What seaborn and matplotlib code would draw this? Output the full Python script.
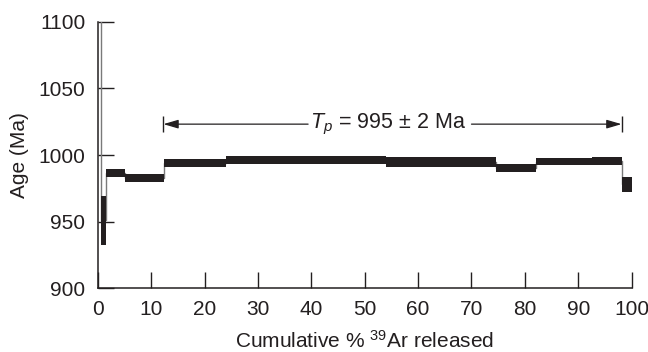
import numpy as np
import pandas as pd
import matplotlib
matplotlib.use("Agg")
import matplotlib.pyplot as plt
import seaborn as sns

# Step boundaries (cumulative % 39Ar released)
step_left = [0.0, 0.62, 1.5, 5.1, 12.5, 24.0, 54.0, 74.6, 82.0, 92.5, 98.1]
step_right = [0.62, 1.5, 5.1, 12.5, 24.0, 54.0, 74.6, 82.0, 92.5, 98.1, 100.0]
# Apparent ages (Ma) and 1-sigma errors
ages = [1300.0, 950.9, 986.6, 982.8, 994.1, 996.3, 994.7, 990.3, 995.0, 995.6, 978.1]
errs = [20.0, 18.3, 2.9, 2.9, 2.9, 3.1, 4.0, 2.9, 2.5, 3.1, 5.6]

plateau_start = 12.3
plateau_end = 98.1
plateau_label = "$T_p$ = 995 ± 2 Ma"
plateau_y = 1023.2

xticks = [0, 10, 20, 30, 40, 50, 60, 70, 80, 90, 100]
yticks = [900, 950, 1000, 1050, 1100]

sns.set_theme(style="ticks")
plt.rcParams["font.family"] = ["Liberation Sans", "DejaVu Sans"]
plt.rcParams["mathtext.fontset"] = "custom"
plt.rcParams["mathtext.rm"] = "Liberation Sans"
plt.rcParams["mathtext.it"] = "Liberation Sans:italic"

INK = "#231f20"

df = pd.DataFrame({"left": step_left, "right": step_right, "age": ages, "err": errs})
df["width"] = df["right"] - df["left"]

fig = plt.figure(figsize=(6.48, 3.52), dpi=100)
ax = fig.add_axes([0.1508, 0.181, 0.824, 0.757])

# connector step line through box centres
step_x = list(df["left"]) + [df["right"].iloc[-1]]
step_y = list(df["age"]) + [df["age"].iloc[-1]]
ax.step(step_x, step_y, where="post", color="#7a7a7a", lw=1.0, zorder=1)

# age boxes
ax.bar(df["left"], 2 * df["err"], bottom=df["age"] - df["err"], width=df["width"],
       align="edge", color=INK, edgecolor="none", zorder=2)

# plateau annotation
ax.text(54.4, plateau_y, plateau_label, ha="center", va="center", fontsize=15.5, color=INK)
ax.annotate("", xy=(plateau_start, plateau_y), xytext=(39.4, plateau_y),
            arrowprops=dict(arrowstyle="-|>,head_length=0.75,head_width=0.22", color=INK, lw=0.9,
                            shrinkA=0, shrinkB=0))
ax.annotate("", xy=(plateau_end, plateau_y), xytext=(70.0, plateau_y),
            arrowprops=dict(arrowstyle="-|>,head_length=0.75,head_width=0.22", color=INK, lw=0.9,
                            shrinkA=0, shrinkB=0))
ax.vlines([plateau_start, plateau_end], plateau_y - 6.2, plateau_y + 6.2, color=INK, lw=1.0)

ax.set_xlim(0, 100)
ax.set_ylim(900, 1100)
ax.set_xticks(xticks)
ax.set_yticks(yticks)
ax.tick_params(direction="in", length=11.5, width=1.0, colors=INK, labelsize=15,
               labelcolor=INK)
ax.tick_params(axis="x", pad=8.5)
ax.tick_params(axis="y", pad=9)
for s in ["top", "right"]:
    ax.spines[s].set_visible(False)
for s in ["left", "bottom"]:
    ax.spines[s].set_linewidth(1.1)
    ax.spines[s].set_color(INK)

ax.set_xlabel("Cumulative % $^{39}$Ar released", fontsize=15, color=INK, labelpad=8)
ax.set_ylabel("Age (Ma)", fontsize=15, color=INK, labelpad=7)

fig.savefig("out.png", dpi=100, facecolor="white")
